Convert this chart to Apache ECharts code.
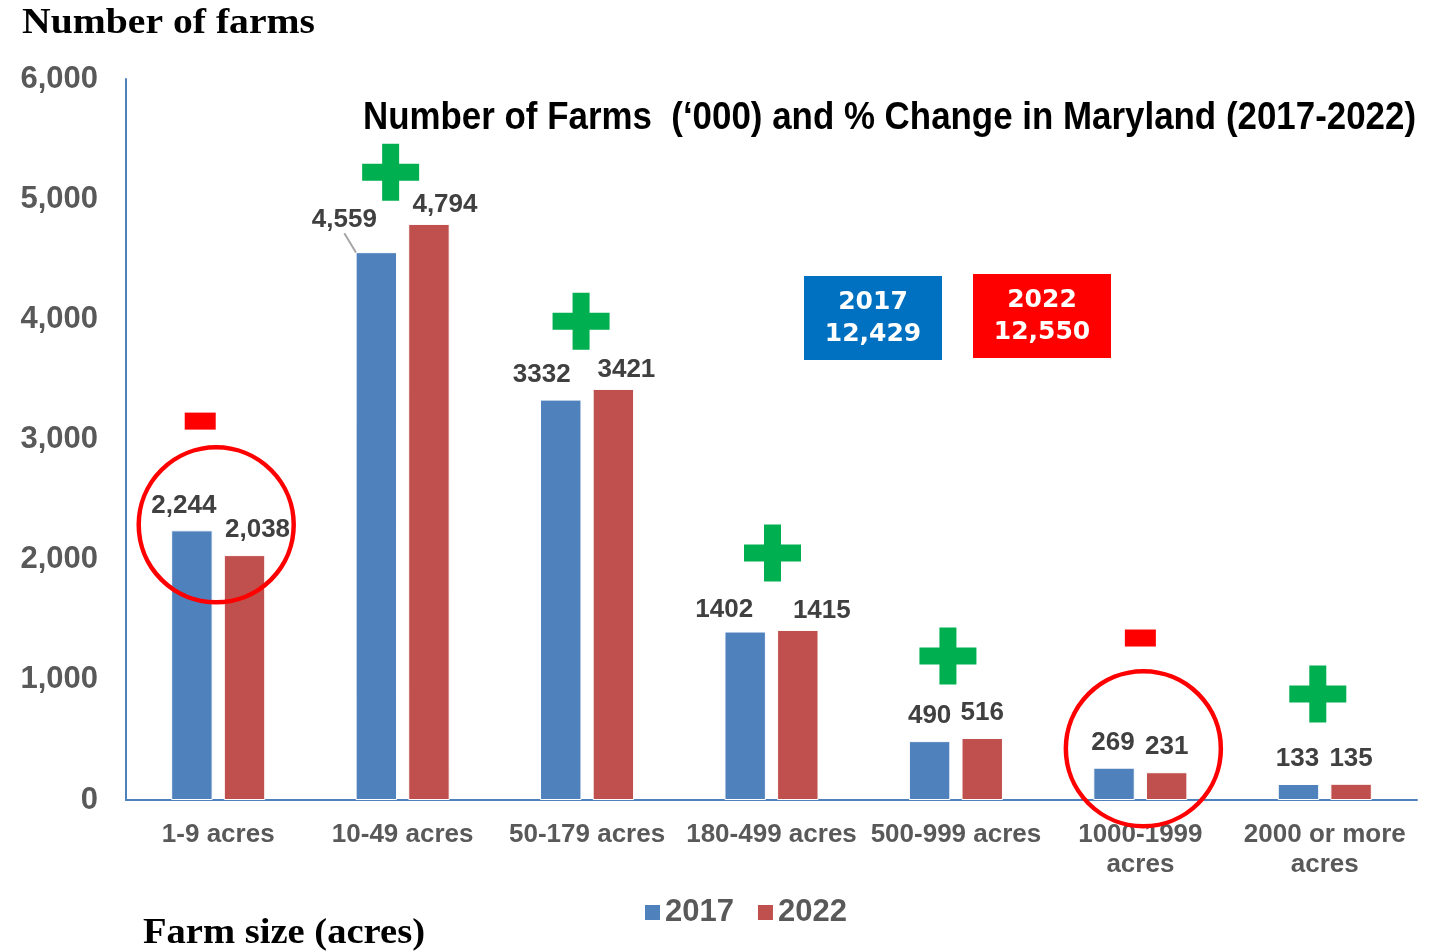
<!DOCTYPE html>
<html>
<head>
<meta charset="utf-8">
<title>Number of Farms in Maryland</title>
<script src="https://cdn.jsdelivr.net/npm/echarts@6/dist/echarts.min.js"></script>
<style>
  html, body { margin: 0; padding: 0; background: #fff; }
  #chart { width: 1440px; height: 952px; }
</style>
</head>
<body>
<div id="chart"></div>
<script>
// farm size classes
const categories = ['1-9 acres', '10-49 acres', '50-179 acres', '180-499 acres',
  '500-999 acres', '1000-1999\nacres', '2000 or more\nacres'];

const farms2017 = [2244, 4559, 3332, 1402, 490, 269, 133];
const farms2022 = [2038, 4794, 3421, 1415, 516, 231, 135];

// label text as printed on the original
const labels2017 = ['2,244', '4,559', '3332', '1402', '490', '269', '133'];
const labels2022 = ['2,038', '4,794', '3421', '1415', '516', '231', '135'];

const totals = [['2017', '12,429'], ['2022', '12,550']];

// +/- markers: [category index, value height, type]
const signs = [
  [0, 3153, 'minus'], [1, 5225, 'plus'], [2, 3985, 'plus'], [3, 2055, 'plus'],
  [4, 1198, 'plus'], [5, 1348, 'minus'], [6, 882, 'plus']
];
// highlighted categories: [category index, value height]
const rings = [[0, 2290], [5, 427]];

// label nudges (px) so labels sit like the original
const shift2017 = [[-8, 0], [-32, -7], [-19, 0], [-21, 3], [0, 0], [-1, 0], [-1, 0]];
const shift2022 = [[13, 0], [16, 6], [13, 6], [24, 6], [0, 0], [0, 0], [0, 0]];
const signShiftX = [-18, -12, -6, 1, -8, 0, -7];

const chart = echarts.init(document.getElementById('chart'));

// squeeze/stretch a text horizontally to the width it has in the original
const ctx = document.createElement('canvas').getContext('2d');
function fitScale(text, font, width) {
  ctx.font = font;
  return width / ctx.measureText(text).width;
}

const sans = 'Liberation Sans, Arial, sans-serif';
const serif = 'Liberation Serif, Times New Roman, serif';

const labelStyle = {
  show: true,
  position: 'top',
  distance: 12,
  fontFamily: sans,
  fontWeight: 'bold',
  fontSize: 26,
  color: '#404040'
};

const plusPath = 'path://M20,0H37V20H57V37H37V57H20V37H0V20H20Z';

function headText(text, x, y, family, size, width) {
  return {
    type: 'text',
    x: x, y: y,
    scaleX: fitScale(text, 'bold ' + size + 'px ' + family, width),
    style: {
      text: text,
      align: 'left', verticalAlign: 'middle',
      fontFamily: family, fontWeight: 'bold', fontSize: size, fill: '#000'
    }
  };
}

const mainTitle = 'Number of Farms  (\u2018000) and % Change in Maryland (2017-2022)';

chart.setOption({
  animation: false,
  legend: {
    data: ['2017', '2022'],
    left: 638, top: 892,
    itemWidth: 17, itemHeight: 17, itemGap: 22,
    icon: 'rect',
    textStyle: { fontFamily: sans, fontWeight: 'bold', fontSize: 31, color: '#595959', padding: [0, 0, 0, -1] }
  },
  grid: { left: 126, right: 23, top: 79, bottom: 152 },
  xAxis: {
    type: 'category',
    data: categories,
    axisLine: { lineStyle: { color: '#4F81BD', width: 2 } },
    axisTick: { show: false },
    axisLabel: {
      margin: 20,
      interval: 0,
      fontFamily: sans,
      fontWeight: 'bold',
      fontSize: 26,
      lineHeight: 30,
      color: '#595959'
    }
  },
  yAxis: {
    type: 'value',
    min: 0, max: 6000, interval: 1000,
    axisLine: { show: true, lineStyle: { color: '#4F81BD', width: 2 } },
    axisTick: { show: false },
    splitLine: { show: false },
    axisLabel: {
      margin: 28,
      fontFamily: sans,
      fontWeight: 'bold',
      fontSize: 31,
      color: '#595959',
      formatter: v => v.toLocaleString('en-US')
    }
  },
  series: [
    {
      name: '2017',
      type: 'bar',
      barGap: '27%',
      barCategoryGap: '49%',
      itemStyle: { color: '#4F81BD', borderColor: '#fff', borderWidth: 1 },
      label: Object.assign({}, labelStyle, { formatter: p => labels2017[p.dataIndex] }),
      labelLine: { show: false },
      labelLayout: p => ({ dx: shift2017[p.dataIndex][0], dy: shift2017[p.dataIndex][1] }),
      data: farms2017.map((v, i) => i === 1
        ? { value: v, labelLine: { show: true, lineStyle: { color: '#A6A6A6', width: 2 } } }
        : v)
    },
    {
      name: '2022',
      type: 'bar',
      itemStyle: { color: '#C0504D', borderColor: '#fff', borderWidth: 1 },
      label: Object.assign({}, labelStyle, { formatter: p => labels2022[p.dataIndex] }),
      labelLine: { show: false },
      labelLayout: p => ({ dx: shift2022[p.dataIndex][0], dy: shift2022[p.dataIndex][1] }),
      data: farms2022
    },
    {
      name: 'change',
      type: 'scatter',
      silent: true,
      z: 5,
      data: signs.map(s => ({
        value: [s[0], s[1]],
        symbol: s[2] === 'plus' ? plusPath : 'rect',
        symbolSize: s[2] === 'plus' ? 57 : [31, 17],
        symbolOffset: [signShiftX[s[0]], 0],
        itemStyle: { color: s[2] === 'plus' ? '#00B050' : '#FF0000', opacity: 1 }
      }))
    },
    {
      name: 'ring',
      type: 'scatter',
      silent: true,
      z: 6,
      symbol: 'circle',
      symbolSize: 155,
      itemStyle: { color: 'rgba(0,0,0,0)', borderColor: '#FF0000', borderWidth: 4.5, opacity: 1 },
      data: rings.map(r => ({ value: r, symbolOffset: [r[0] === 0 ? -2 : 3, 0] }))
    }
  ],
  graphic: [
    headText('Number of farms', 22, 24, serif, 35, 293),
    headText(mainTitle, 363, 118, sans, 39, 1053),
    headText('Farm size (acres)', 143, 934, serif, 35, 282)
  ].concat(totals.map((t, i) => ({
    type: 'group',
    left: i === 0 ? 804 : 973,
    top: i === 0 ? 276 : 274,
    children: [
      { type: 'rect', shape: { x: 0, y: 0, width: 138, height: 84 }, style: { fill: i === 0 ? '#0070C0' : '#FF0000' } },
      {
        type: 'text', x: 69, y: 42,
        style: {
          text: t[0] + '\n' + t[1],
          align: 'center', verticalAlign: 'middle',
          fontFamily: 'DejaVu Sans, Verdana, sans-serif', fontWeight: 'bold', fontSize: 25,
          lineHeight: 32, fill: '#fff'
        }
      }
    ]
  })))
});

window.addEventListener('resize', function () {
  chart.resize();
});
</script>
</body>
</html>
